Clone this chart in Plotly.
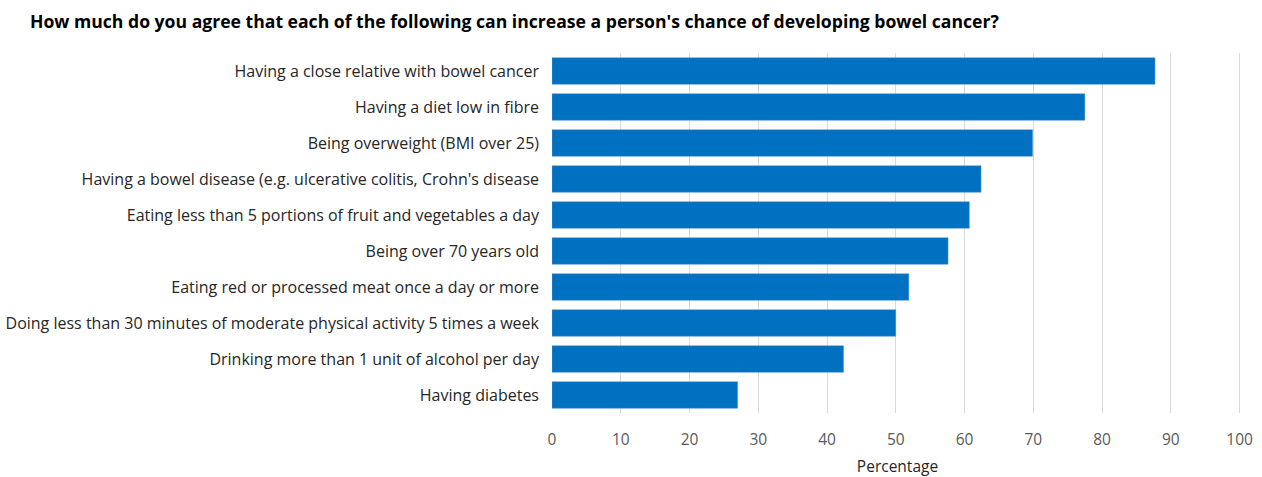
import plotly.graph_objects as go

categories = [
    "Having a close relative with bowel cancer",
    "Having a diet low in fibre",
    "Being overweight (BMI over 25)",
    "Having a bowel disease (e.g. ulcerative colitis, Crohn's disease",
    "Eating less than 5 portions of fruit and vegetables a day",
    "Being over 70 years old",
    "Eating red or processed meat once a day or more",
    "Doing less than 30 minutes of moderate physical activity 5 times a week",
    "Drinking more than 1 unit of alcohol per day",
    "Having diabetes",
]
values = [87.7, 77.5, 69.9, 62.4, 60.7, 57.6, 51.9, 50.0, 42.4, 27.0]
x_ticks = [0, 10, 20, 30, 40, 50, 60, 70, 80, 90, 100]

FONT = "Open Sans"

fig = go.Figure(
    go.Bar(
        x=values,
        y=categories,
        orientation="h",
        marker=dict(color="#0070C0", line=dict(color="#5B9BD5", width=0.5)),
        hoverinfo="x+y",
    )
)

fig.update_layout(
    width=1262,
    height=477,
    margin=dict(l=552, r=18.6, t=53, b=64, autoexpand=False),
    paper_bgcolor="white",
    plot_bgcolor="white",
    bargap=0.26,
    showlegend=False,
    font=dict(family=FONT, size=16, color="#404040"),
    title=dict(
        text="<b>How much do you agree that each of the following can increase a person's chance of developing bowel cancer?</b>",
        x=30 / 1262,
        xanchor="left",
        xref="container",
        y=1 - 22 / 477,
        yanchor="middle",
        yref="container",
        font=dict(family=FONT, size=17.6, color="#000000"),
    ),
)

fig.update_xaxes(
    range=[0, 100.5],
    tickvals=x_ticks,
    ticktext=[str(v) for v in x_ticks],
    showgrid=True,
    gridcolor="#D9D9D9",
    gridwidth=1,
    zeroline=False,
    showline=False,
    ticks="",
    automargin=False,
    ticklabelstandoff=15,
    tickfont=dict(family=FONT, size=15.5, color="#595959"),
    title=dict(text="Percentage", standoff=16, font=dict(family=FONT, size=15.5, color="#262626")),
    fixedrange=True,
)

fig.update_yaxes(
    categoryorder="array",
    categoryarray=categories[::-1],
    autorange=True,
    showgrid=False,
    zeroline=False,
    showline=False,
    ticks="",
    automargin=False,
    ticklabelstandoff=12,
    tickfont=dict(family=FONT, size=16, color="#262626"),
    fixedrange=True,
)

fig.write_html("out.html")
